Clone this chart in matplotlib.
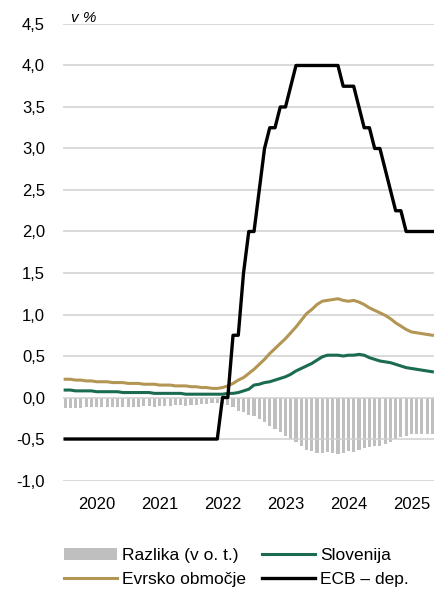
import matplotlib.pyplot as plt
import numpy as np

plt.rcParams['font.family'] = ['Liberation Sans Narrow', 'Liberation Sans', 'DejaVu Sans']

# mesecni podatki, jan 2020 - nov 2025
years = ['2020', '2021', '2022', '2023', '2024', '2025']

evro = [0.22, 0.22, 0.21, 0.21, 0.20, 0.20, 0.19, 0.19, 0.19, 0.18, 0.18, 0.18,
        0.17, 0.17, 0.17, 0.16, 0.16, 0.16, 0.15, 0.15, 0.15, 0.14, 0.14, 0.14,
        0.13, 0.13, 0.12, 0.12, 0.11, 0.11, 0.12, 0.14, 0.17, 0.21, 0.24, 0.29,
        0.34, 0.40, 0.46, 0.53, 0.59, 0.65, 0.71, 0.78, 0.85, 0.93, 1.01, 1.06,
        1.12, 1.16, 1.17, 1.18, 1.19, 1.17, 1.16, 1.17, 1.15, 1.12, 1.08, 1.05,
        1.02, 0.99, 0.95, 0.90, 0.86, 0.82, 0.79, 0.78, 0.77, 0.76, 0.75]

slo = [0.09, 0.09, 0.08, 0.08, 0.08, 0.08, 0.07, 0.07, 0.07, 0.07, 0.07, 0.06,
       0.06, 0.06, 0.06, 0.06, 0.06, 0.05, 0.05, 0.05, 0.05, 0.05, 0.05, 0.04,
       0.04, 0.04, 0.04, 0.04, 0.04, 0.04, 0.04, 0.05, 0.05, 0.06, 0.08, 0.10,
       0.15, 0.16, 0.18, 0.19, 0.21, 0.23, 0.25, 0.28, 0.32, 0.35, 0.38, 0.41,
       0.45, 0.49, 0.51, 0.51, 0.51, 0.50, 0.51, 0.51, 0.52, 0.51, 0.48, 0.46,
       0.44, 0.43, 0.42, 0.40, 0.38, 0.36, 0.35, 0.34, 0.33, 0.32, 0.31]

razlika = [-0.13, -0.13, -0.13, -0.13, -0.12, -0.12, -0.12, -0.12, -0.12, -0.11, -0.11, -0.12,
           -0.11, -0.11, -0.11, -0.10, -0.10, -0.11, -0.10, -0.10, -0.10, -0.09, -0.09, -0.10,
           -0.09, -0.09, -0.08, -0.08, -0.07, -0.07, -0.08, -0.09, -0.12, -0.16, -0.18, -0.21,
           -0.22, -0.26, -0.30, -0.34, -0.38, -0.42, -0.46, -0.50, -0.53, -0.58, -0.63, -0.65,
           -0.67, -0.67, -0.66, -0.67, -0.68, -0.67, -0.65, -0.66, -0.63, -0.61, -0.60, -0.59,
           -0.58, -0.56, -0.53, -0.50, -0.48, -0.46, -0.44, -0.44, -0.44, -0.44, -0.44]

ecb = [-0.5]*30 + [0.0, 0.0, 0.75, 0.75, 1.5, 2.0, 2.0, 2.5, 3.0, 3.25, 3.25, 3.5, 3.5, 3.75] \
      + [4.0]*9 + [3.75, 3.75, 3.75, 3.5, 3.25, 3.25, 3.0, 3.0, 2.75, 2.5, 2.25, 2.25] + [2.0]*6

x = np.arange(len(evro))

fig = plt.figure(figsize=(4.35, 5.92), dpi=100)
ax = fig.add_axes([0.145, 0.1883, 0.855, 0.7712])

b = ax.bar(x, razlika, width=0.6, color='#bfbfbf', zorder=0.4)
l1, = ax.plot(x, evro, color='#b39554', lw=2.2, zorder=3)
l2, = ax.plot(x, slo, color='#1b6b50', lw=2.2, zorder=3)
l3, = ax.plot(x, ecb, color='black', lw=2.4, zorder=4)

ax.set_xlim(-0.4, 70.5)
ax.set_ylim(-1.0, 4.5)
yt = np.arange(-1.0, 4.51, 0.5)
ax.set_yticks(yt)
ax.set_yticklabels([('%.1f' % v).replace('.', ',') for v in yt])
ax.set_xticks(np.arange(len(years))*12 + 6)
ax.set_xticklabels(years)
ax.tick_params(axis='y', length=0, pad=13, labelsize=12)
ax.tick_params(axis='x', length=0, pad=12, labelsize=12)
ax.set_axisbelow(True)
ax.grid(axis='y', color='#cfcfcf', lw=1.1)
for s in ax.spines.values():
    s.set_visible(False)

ax.text(0.02, 0.998, 'v %', transform=ax.transAxes, style='italic', fontsize=11, va='bottom')

# stolpci legende: razlika/evro, slo/ecb
lg = fig.legend([b, l1, l2, l3], ['Razlika (v o. t.)', 'Evrsko območje', 'Slovenija', 'ECB – dep.'],
                ncol=2, loc='center', bbox_to_anchor=(0.544, 0.0414), frameon=False, fontsize=12.5,
                handlelength=3.05, handletextpad=0.3, columnspacing=0.9, labelspacing=0.55)

plt.savefig('out.png', dpi=100)
